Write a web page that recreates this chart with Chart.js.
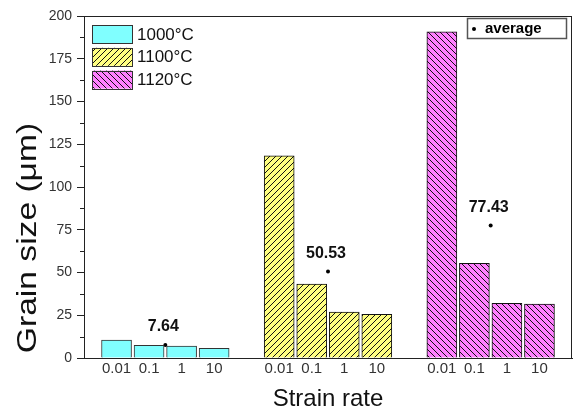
<!DOCTYPE html>
<html>
<head>
<meta charset="utf-8">
<script src="https://cdn.jsdelivr.net/npm/chart.js@4/dist/chart.umd.min.js"></script>
<style>
  body { margin: 0; background: #fff; }
</style>
</head>
<body>
<canvas id="chart" width="576" height="411"></canvas>
<script>
// data
const strainRates = ["0.01", "0.1", "1", "10"];
const temperatures = ["1000°C", "1100°C", "1120°C"];
const grain1000 = [10.5, 7.4, 7.0, 5.7];
const grain1100 = [118.3, 43.2, 26.8, 25.6];
const grain1120 = [190.8, 55.4, 32.0, 31.5];
const averages = [7.64, 50.53, 77.43];
const yTicks = [0, 25, 50, 75, 100, 125, 150, 175, 200];

const FONT = "'Liberation Sans', Arial, sans-serif";

// hatch patterns
function hatch(bg, dir) {
    const size = 6;
    const c = document.createElement("canvas");
    c.width = size;
    c.height = size;
    const g = c.getContext("2d");
    g.fillStyle = bg;
    g.fillRect(0, 0, size, size);
    g.fillStyle = "#111";
    for (let i = 0; i < size; i++) {
        const y = dir === "/" ? size - 1 - i : i;
        g.fillRect(i, y, 1, 1);
    }
    return g.createPattern(c, "repeat");
}

const fills = ["#80FFFF", hatch("#FFFF80", "/"), hatch("#FF80FF", "\\")];
const borders = ["#333", "#111", "#111"];
const series = [grain1000, grain1100, grain1120];

// group g occupies slots g*5+1 .. g*5+4 on the x axis
const tickPos = [];
const tickText = {};
series.forEach((s, g) => {
    strainRates.forEach((r, i) => {
        tickPos.push(g * 5 + i + 1);
        tickText[g * 5 + i + 1] = r;
    });
});

const datasets = series.map((vals, g) => ({
    type: "bar",
    label: temperatures[g],
    data: vals.map((v, i) => ({ x: g * 5 + i + 1, y: v })),
    backgroundColor: fills[g],
    borderColor: borders[g],
    borderWidth: 1,
    borderSkipped: "bottom",
    barThickness: 30,
    grouped: false,
}));

datasets.push({
    type: "scatter",
    label: "average",
    data: averages.map((v, g) => ({ x: g * 5 + 2.5, y: v })),
    backgroundColor: "#000",
    borderWidth: 0,
    pointRadius: 2,
});

const decor = {
    id: "decor",
    afterDraw(chart) {
        const ctx = chart.ctx;
        const a = chart.chartArea;
        const ys = chart.scales.y;
        const xs = chart.scales.x;
        ctx.save();
        // frame
        ctx.strokeStyle = "#222";
        ctx.lineWidth = 1;
        ctx.strokeRect(Math.round(a.left) + 0.5, Math.round(a.top) + 0.5,
            Math.round(a.right - a.left) - 1, Math.round(a.bottom - a.top));
        // minor ticks
        ctx.beginPath();
        for (let v = 12.5; v < 200; v += 25) {
            const y = Math.round(ys.getPixelForValue(v)) + 0.5;
            ctx.moveTo(a.left - 4, y);
            ctx.lineTo(a.left, y);
        }
        ctx.stroke();

        // y title, drawn by hand to get the wide lettering of the original
        ctx.save();
        ctx.translate(28, 238);
        ctx.rotate(-Math.PI / 2);
        ctx.scale(1.2, 1);
        ctx.fillStyle = "#111";
        ctx.font = "28px " + FONT;
        ctx.textAlign = "center";
        ctx.textBaseline = "middle";
        ctx.fillText("Grain size (μm)", 0, 0);
        ctx.restore();

        // average labels
        ctx.fillStyle = "#111";
        ctx.font = "bold 16px " + FONT;
        ctx.textAlign = "center";
        ctx.textBaseline = "middle";
        averages.forEach((v, g) => {
            const px = xs.getPixelForValue(g * 5 + 2.5);
            const py = ys.getPixelForValue(v);
            ctx.fillText(v.toFixed(2), px - 2, py - 18);
        });

        // temperature legend
        ctx.textAlign = "left";
        ctx.font = "17px " + FONT;
        temperatures.forEach((t, i) => {
            const y = 25 + i * 22.8;
            ctx.fillStyle = fills[i];
            ctx.fillRect(93, y, 39, 18);
            ctx.strokeStyle = "#333";
            ctx.strokeRect(92.5, Math.round(y) + 0.5, 40, 18);
            ctx.fillStyle = "#111";
            ctx.fillText(t, 137, y + 10);
        });

        // average legend box
        ctx.strokeStyle = "#555";
        ctx.lineWidth = 1.5;
        ctx.strokeRect(467.5, 18.5, 99, 20);
        ctx.fillStyle = "#000";
        ctx.beginPath();
        ctx.arc(474, 29, 2, 0, Math.PI * 2);
        ctx.fill();
        ctx.font = "bold 15px " + FONT;
        ctx.fillText("average", 485, 29);
        ctx.restore();
    },
};

new Chart(document.getElementById("chart"), {
    data: { datasets: datasets },
    options: {
        responsive: false,
        animation: false,
        devicePixelRatio: 1,
        layout: { padding: { top: 16, right: 4, left: 0, bottom: 0 } },
        plugins: {
            legend: { display: false },
            tooltip: { enabled: false },
        },
        scales: {
            x: {
                type: "linear",
                min: 0,
                max: 15,
                offset: false,
                grid: { display: false, drawTicks: false },
                border: { display: true, color: "#222" },
                afterBuildTicks(scale) {
                    scale.ticks = tickPos.map((v) => ({ value: v }));
                },
                afterFit(scale) {
                    scale.height = 53;
                },
                ticks: {
                    autoSkip: false,
                    maxRotation: 0,
                    padding: 2,
                    color: "#333",
                    font: { family: FONT, size: 15 },
                    callback: (v) => tickText[v] || "",
                },
                title: {
                    display: true,
                    text: "Strain rate",
                    color: "#111",
                    font: { family: FONT, size: 24 },
                    padding: { top: 0, bottom: -3 },
                },
            },
            y: {
                min: 0,
                max: 200,
                afterBuildTicks(scale) {
                    scale.ticks = yTicks.map((v) => ({ value: v }));
                },
                afterFit(scale) {
                    scale.width = 84;
                },
                grid: {
                    drawOnChartArea: false,
                    tickLength: 7,
                    tickColor: "#222",
                },
                border: { display: true, color: "#222" },
                ticks: {
                    padding: 5,
                    color: "#333",
                    font: { family: FONT, size: 14 },
                },
            },
        },
    },
    plugins: [decor],
});
</script>
</body>
</html>
